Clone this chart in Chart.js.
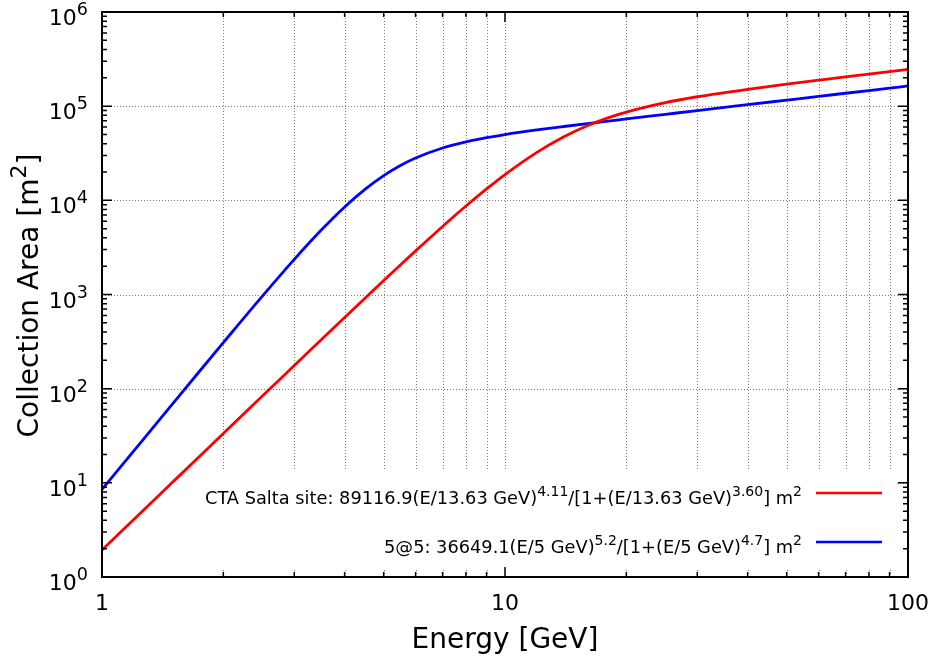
<!DOCTYPE html>
<html><head><meta charset="utf-8">
<script src="https://cdn.jsdelivr.net/npm/chart.js@4"></script>
<style>html,body{margin:0;padding:0;background:#fff}#wrap{width:935px;height:656px;position:relative}</style>
</head><body><div id="wrap"><canvas id="c" width="935" height="656"></canvas></div>
<script>
// Energy values (GeV) at which the curves were read
const energies = [1, 1.25, 1.5, 1.75, 2, 2.5, 3, 3.5, 4, 4.5, 5, 5.5, 6, 7, 8, 9, 10, 12, 14, 16, 18, 20, 25, 30, 40, 50, 60, 70, 80, 90, 100];
// CTA Salta site collection area (m^2)
const saltaArea = [1.94, 4.85, 10.25, 19.3, 33.4, 83.5, 176, 331, 571, 920, 1407, 2059, 2906, 5283, 8699, 13216, 18793, 32340, 47350, 61930, 75110, 86590, 109150, 125880, 151150, 171300, 188800, 204800, 219400, 233200, 246000];
// 5@5 collection area (m^2)
const fiveAtFiveArea = [8.5, 27.1, 69.8, 155, 308, 960, 2359, 4832, 8506, 13165, 18325, 23459, 28184, 35962, 41772, 46276, 49920, 55865, 60842, 65287, 69352, 73220, 81906, 89770, 103667, 115900, 126960, 137140, 146600, 155480, 163900];

const xTickValues = [1, 10, 100];
const xTickLabels = ['1', '10', '100'];
const yTickExponents = [0, 1, 2, 3, 4, 5, 6];
const xAxisTitle = 'Energy [GeV]';
const yAxisTitleParts = [['Collection Area [m', 0], ['2', 1], [']', 0]];
const saltaLabelParts = [['CTA Salta site: 89116.9(E/13.63 GeV)', 0], ['4.11', 1], ['/[1+(E/13.63 GeV)', 0], ['3.60', 1], ['] m', 0], ['2', 1]];
const fiveLabelParts = [['5@5: 36649.1(E/5 GeV)', 0], ['5.2', 1], ['/[1+(E/5 GeV)', 0], ['4.7', 1], ['] m', 0], ['2', 1]];
const seriesColors = ['#ff0000', '#0000ff'];

const FONT = "'DejaVu Sans', 'Liberation Sans', sans-serif";

function partsWidth(ctx, parts, size, supSize) {
  let w = 0;
  for (const [t, s] of parts) {
    ctx.font = (s ? supSize : size) + 'px ' + FONT;
    w += ctx.measureText(t).width;
  }
  return w;
}
function drawParts(ctx, parts, x, y, size, supSize, raise, align) {
  const w = partsWidth(ctx, parts, size, supSize);
  let cx = align === 'right' ? x - w : (align === 'center' ? x - w / 2 : x);
  ctx.textAlign = 'left';
  ctx.textBaseline = 'alphabetic';
  for (const [t, s] of parts) {
    ctx.font = (s ? supSize : size) + 'px ' + FONT;
    ctx.fillText(t, cx, s ? y - raise : y);
    cx += ctx.measureText(t).width;
  }
}

const keyBox = {x1: 895, y1: 469, y2: 568};

const gnuPlugin = {
  id: 'gnu',
  beforeDatasetsDraw(chart) {
    const ctx = chart.ctx, a = chart.chartArea;
    const xs = chart.scales.x, ys = chart.scales.y;
    ctx.save();
    ctx.strokeStyle = '#7a7a7a';
    ctx.lineWidth = 1;
    ctx.setLineDash([1, 2]);
    for (const d of [1, 10]) {
      for (let m = (d === 1 ? 2 : 1); m <= 9; m++) {
        const v = d * m;
        const px = Math.round(xs.getPixelForValue(v)) + 0.5;
        ctx.beginPath(); ctx.moveTo(px, a.top); ctx.lineTo(px, a.bottom); ctx.stroke();
      }
    }
    for (const e of yTickExponents) {
      if (e === 0 || e === 6) continue;
      const py = Math.round(ys.getPixelForValue(Math.pow(10, e))) + 0.5;
      ctx.beginPath(); ctx.moveTo(a.left, py); ctx.lineTo(a.right, py); ctx.stroke();
    }
    ctx.setLineDash([]);
    ctx.fillStyle = '#ffffff';
    ctx.fillRect(a.left + 1, keyBox.y1, keyBox.x1 - a.left - 1, keyBox.y2 - keyBox.y1);
    ctx.restore();
  },
  afterDatasetsDraw(chart) {
    const ctx = chart.ctx, a = chart.chartArea;
    const xs = chart.scales.x, ys = chart.scales.y;
    ctx.save();
    ctx.strokeStyle = '#000';
    ctx.lineWidth = 1.5;
    const MAJ = 10, MIN = 5;
    for (const d of [1, 10, 100]) {
      for (let m = 1; m <= 9; m++) {
        const v = d * m;
        if (v > 100) break;
        const px = xs.getPixelForValue(v);
        const L = m === 1 ? MAJ : MIN;
        ctx.beginPath();
        ctx.moveTo(px, a.bottom); ctx.lineTo(px, a.bottom - L);
        ctx.moveTo(px, a.top); ctx.lineTo(px, a.top + L);
        ctx.stroke();
      }
    }
    for (const e of yTickExponents) {
      for (let m = 1; m <= 9; m++) {
        const v = m * Math.pow(10, e);
        if (v > 1e6) break;
        const py = ys.getPixelForValue(v);
        const L = m === 1 ? MAJ : MIN;
        ctx.beginPath();
        ctx.moveTo(a.left, py); ctx.lineTo(a.left + L, py);
        ctx.moveTo(a.right, py); ctx.lineTo(a.right - L, py);
        ctx.stroke();
      }
    }
    ctx.lineWidth = 2;
    ctx.strokeRect(a.left, a.top, a.right - a.left, a.bottom - a.top);

    ctx.fillStyle = '#000';
    ctx.font = '22px ' + FONT;
    ctx.textAlign = 'center';
    ctx.textBaseline = 'alphabetic';
    xTickValues.forEach((v, i) => {
      ctx.fillText(xTickLabels[i], xs.getPixelForValue(v), a.bottom + 32.5);
    });
    for (const e of yTickExponents) {
      const py = ys.getPixelForValue(Math.pow(10, e));
      drawParts(ctx, [['10', 0], [String(e), 1]], 88, py + 13, 22, 17.6, 10, 'right');
    }
    ctx.font = '28px ' + FONT;
    ctx.textAlign = 'center';
    ctx.fillText(xAxisTitle, (a.left + a.right) / 2, 648);
    ctx.save();
    ctx.translate(37.5, (a.top + a.bottom) / 2 + 1);
    ctx.rotate(-Math.PI / 2);
    drawParts(ctx, yAxisTitleParts, 0, 0, 28, 22, 12, 'center');
    ctx.restore();

    const rows = [[saltaLabelParts, 493], [fiveLabelParts, 542]];
    rows.forEach(([parts, ly], i) => {
      ctx.fillStyle = '#000';
      drawParts(ctx, parts, 802, ly + 10.5, 17.8, 14, 8, 'right');
      ctx.strokeStyle = seriesColors[i];
      ctx.lineWidth = 2.5;
      ctx.beginPath(); ctx.moveTo(816, ly); ctx.lineTo(882, ly); ctx.stroke();
    });
    ctx.restore();
  }
};

const toPts = (arr) => energies.map((e, i) => ({x: e, y: arr[i]}));

new Chart(document.getElementById('c'), {
  type: 'line',
  data: {
    datasets: [
      {label: 'CTA Salta site', data: toPts(saltaArea), borderColor: seriesColors[0], borderWidth: 2.8, pointRadius: 0, fill: false, cubicInterpolationMode: 'monotone'},
      {label: '5@5', data: toPts(fiveAtFiveArea), borderColor: seriesColors[1], borderWidth: 2.8, pointRadius: 0, fill: false, cubicInterpolationMode: 'monotone'}
    ]
  },
  options: {
    responsive: false,
    animation: false,
    devicePixelRatio: 1,
    layout: {padding: {left: 102, right: 27, top: 12, bottom: 79}},
    plugins: {legend: {display: false}, tooltip: {enabled: false}},
    scales: {
      x: {type: 'logarithmic', min: 1, max: 100, display: false},
      y: {type: 'logarithmic', min: 1, max: 1e6, display: false}
    }
  },
  plugins: [gnuPlugin]
});
</script></body></html>
